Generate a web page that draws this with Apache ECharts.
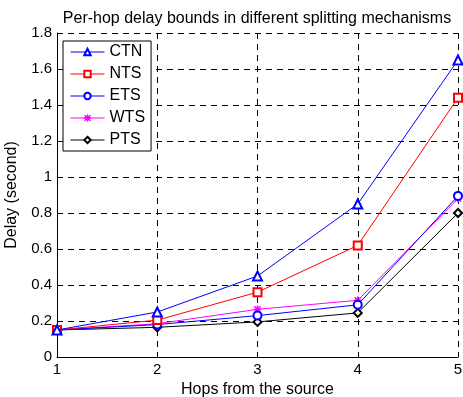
<!DOCTYPE html>
<html><head><meta charset="utf-8">
<script src="https://cdn.jsdelivr.net/npm/echarts@6/dist/echarts.min.js"></script>
<style>html,body{margin:0;padding:0;background:#fff}#c{width:463px;height:397px}</style>
</head><body><div id="c"></div>
<script>
var hops = [1, 2, 3, 4, 5];
var seriesNames = ['CTN', 'NTS', 'ETS', 'WTS', 'PTS'];
var ctn = [0.15, 0.25, 0.45, 0.85, 1.65];
var nts = [0.15, 0.205, 0.36, 0.62, 1.44];
var ets = [0.15, 0.18, 0.23, 0.29, 0.895];
var wts = [0.15, 0.185, 0.265, 0.315, 0.88];
var pts = [0.15, 0.165, 0.195, 0.245, 0.80];
var yTicks = [0, 0.2, 0.4, 0.6, 0.8, 1, 1.2, 1.4, 1.6, 1.8];

var asterisk = 'path://M4.5,0H5.5V10H4.5Z M0,4.5H10V5.5H0Z M1.2,0.5L9.5,8.8L8.8,9.5L0.5,1.2Z M8.8,0.5L9.5,1.2L1.2,9.5L0.5,8.8Z';
var colors = ['#0000ff', '#ff0000', '#0000ff', '#ff00ff', '#000000'];
var symbols = ['emptyTriangle', 'emptyRect', 'emptyCircle', asterisk, 'emptyDiamond'];
var sizes = [9, 8, 8, 7, 8];
var dataSets = [ctn, nts, ets, wts, pts];

function pairs(arr) { return hops.map(function (h, i) { return [h, arr[i]]; }); }

var font = 'Liberation Sans, Arial, sans-serif';
var chart = echarts.init(document.getElementById('c'), null, { renderer: 'canvas' });
chart.setOption({
  animation: false,
  backgroundColor: '#fff',
  title: { text: 'Per-hop delay bounds in different splitting mechanisms', left: 252, textAlign: 'center', top: 6,
    textStyle: { fontFamily: font, fontSize: 16, fontWeight: 'normal', color: '#000' } },
  grid: { left: 57, right: 5, top: 33, bottom: 40, show: false, containLabel: false, outerBoundsMode: 'none' },
  legend: {
    orient: 'vertical', left: 63, top: 41,
    backgroundColor: '#fff', borderColor: '#000', borderWidth: 1, borderRadius: 0,
    padding: [3, 6, 3, 7], itemWidth: 34, itemHeight: 8, itemGap: 6,
    lineStyle: { width: 1 },
    itemStyle: { borderWidth: 1 },
    textStyle: { fontFamily: font, fontSize: 16, color: '#000', lineHeight: 16 },
    data: seriesNames
  },
  xAxis: {
    type: 'value', min: 1, max: 5, interval: 1,
    name: 'Hops from the source', nameLocation: 'middle', nameGap: 25,
    nameTextStyle: { fontFamily: font, fontSize: 16, color: '#000' },
    axisLine: { lineStyle: { color: '#000', width: 1 } },
    axisTick: { inside: true, length: 4, lineStyle: { color: '#000' } },
    axisLabel: { fontFamily: font, fontSize: 15, color: '#000', margin: 5 },
    splitLine: { show: true, lineStyle: { color: '#000', type: [6, 5], width: 1 } }
  },
  yAxis: {
    type: 'value', min: 0, max: 1.8, interval: 0.2,
    name: 'Delay (second)', nameLocation: 'middle', nameGap: 37,
    nameTextStyle: { fontFamily: font, fontSize: 16, color: '#000' },
    axisLine: { show: true, lineStyle: { color: '#000', width: 1 } },
    axisTick: { show: true, inside: true, length: 4, lineStyle: { color: '#000' } },
    axisLabel: { fontFamily: font, fontSize: 15, color: '#000', margin: 5,
      formatter: function (v) { var t = yTicks.find(function (y) { return Math.abs(y - v) < 1e-9; }); return t === undefined ? '' : String(t); } },
    splitLine: { show: true, lineStyle: { color: '#000', type: [6, 5], width: 1 } }
  },
  series: seriesNames.map(function (n, i) {
    return {
      name: n, type: 'line', data: pairs(dataSets[i]),
      symbol: symbols[i], symbolSize: sizes[i], showSymbol: true,
      lineStyle: { color: colors[i], width: 1 },
      itemStyle: { color: colors[i], borderColor: colors[i], borderWidth: 1 },
      z: 10 - i
    };
  })
});
</script></body></html>
